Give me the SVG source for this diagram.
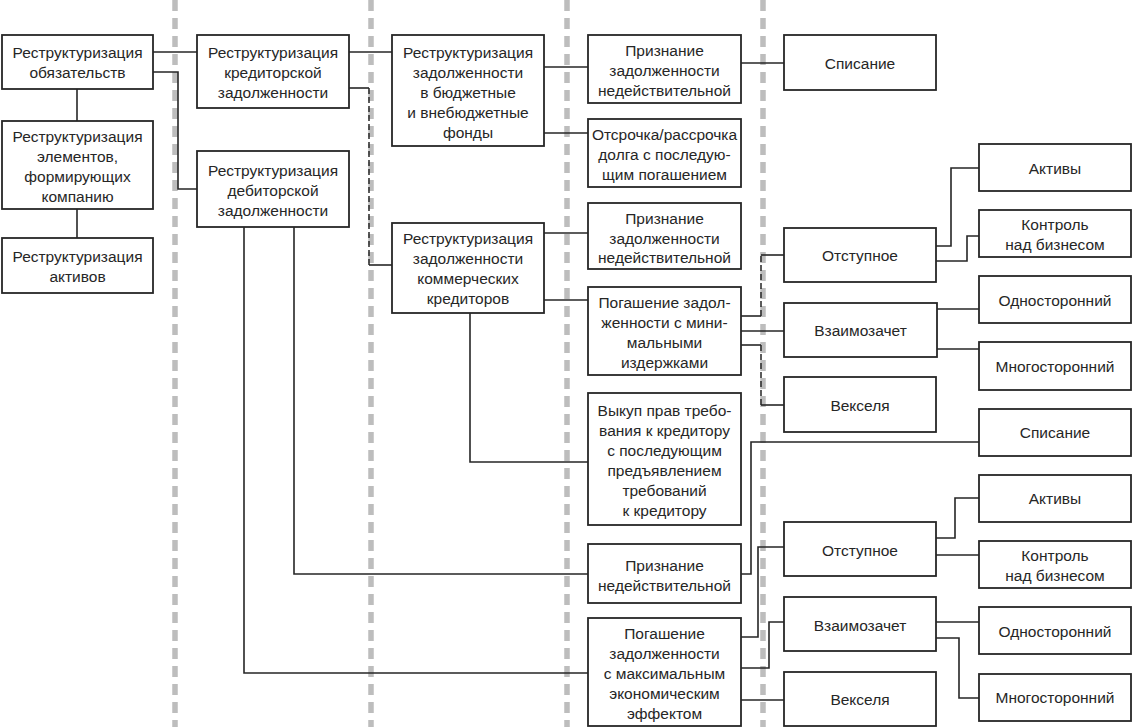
<svg xmlns="http://www.w3.org/2000/svg" width="1133" height="727" viewBox="0 0 1133 727">
<style>
.box{fill:#fff;stroke:#262626;stroke-width:1.8}
.t{font-family:"Liberation Sans",Arial,sans-serif;font-size:15.5px;fill:#262626;text-anchor:middle}
.c{fill:none;stroke:#262626;stroke-width:1.6}
.cd{fill:none;stroke:#262626;stroke-width:1.5;stroke-dasharray:6 3}
.sep{stroke:#bdbdbd;stroke-width:5.5;stroke-dasharray:11 7}
</style>
<rect width="1133" height="727" fill="#fff"/>
<g id="separators">
<line class="sep" x1="175" y1="0" x2="175" y2="727"/>
<line class="sep" x1="371" y1="0" x2="371" y2="727"/>
<line class="sep" x1="567" y1="0" x2="567" y2="727"/>
<line class="sep" x1="763" y1="0" x2="763" y2="727"/>
</g>
<g id="connectors">
<path class="c" d="M153 52H197"/>
<path class="c" d="M153 72H178V189H197"/>
<path class="c" d="M77 89V121"/>
<path class="c" d="M77 209V238"/>
<path class="c" d="M349 52H392"/>
<path class="c" d="M349 88H369"/>
<path class="cd" d="M369 88V265"/>
<path class="c" d="M369 265H392"/>
<path class="c" d="M544 67H588"/>
<path class="c" d="M544 133H588"/>
<path class="c" d="M741 63H784"/>
<path class="c" d="M544 233H588"/>
<path class="c" d="M544 300H588"/>
<path class="c" d="M470 313V462H588"/>
<path class="c" d="M741 316H761"/>
<path class="cd" d="M761 316V255"/>
<path class="c" d="M761 255H784"/>
<path class="c" d="M741 331H784"/>
<path class="c" d="M741 345H761"/>
<path class="cd" d="M761 345V405"/>
<path class="c" d="M761 405H784"/>
<path class="c" d="M936 246H951V168H979"/>
<path class="c" d="M936 261H967V236H979"/>
<path class="c" d="M937 309H979"/>
<path class="c" d="M937 349H979"/>
<path class="c" d="M741 574H751V442H979"/>
<path class="c" d="M294 227V574H588"/>
<path class="c" d="M244 227V673H588"/>
<path class="c" d="M741 637H758V547H784"/>
<path class="c" d="M741 668H769V622H784"/>
<path class="c" d="M741 700H784"/>
<path class="c" d="M936 538H955V498H979"/>
<path class="c" d="M936 555H979"/>
<path class="c" d="M936 622H979"/>
<path class="c" d="M936 638H959V698H979"/>
</g>
<g id="n1"><rect class="box" x="2" y="35" width="151" height="54"/><text class="t" x="77.5" y="57.5">Реструктуризация</text><text class="t" x="77.5" y="77.5">обязательств</text></g>
<g id="n2"><rect class="box" x="2" y="121" width="151" height="88"/><text class="t" x="77.5" y="141.5">Реструктуризация</text><text class="t" x="77.5" y="161.5">элементов,</text><text class="t" x="77.5" y="181.5">формирующих</text><text class="t" x="77.5" y="201.5">компанию</text></g>
<g id="n3"><rect class="box" x="2" y="238" width="151" height="55"/><text class="t" x="77.5" y="261.5">Реструктуризация</text><text class="t" x="77.5" y="281.5">активов</text></g>
<g id="n4"><rect class="box" x="197" y="35" width="152" height="73"/><text class="t" x="273" y="57.5">Реструктуризация</text><text class="t" x="273" y="77.5">кредиторской</text><text class="t" x="273" y="97.5">задолженности</text></g>
<g id="n5"><rect class="box" x="197" y="151" width="152" height="76"/><text class="t" x="273" y="175.5">Реструктуризация</text><text class="t" x="273" y="195.5">дебиторской</text><text class="t" x="273" y="215.5">задолженности</text></g>
<g id="n6"><rect class="box" x="392" y="35" width="152" height="111"/><text class="t" x="468" y="57.5">Реструктуризация</text><text class="t" x="468" y="77.5">задолженности</text><text class="t" x="468" y="97.5">в бюджетные</text><text class="t" x="468" y="117.5">и внебюджетные</text><text class="t" x="468" y="137.5">фонды</text></g>
<g id="n7"><rect class="box" x="392" y="223" width="152" height="90"/><text class="t" x="468" y="244">Реструктуризация</text><text class="t" x="468" y="264">задолженности</text><text class="t" x="468" y="284">коммерческих</text><text class="t" x="468" y="304">кредиторов</text></g>
<g id="n8"><rect class="box" x="588" y="35" width="153" height="68"/><text class="t" x="664.5" y="55.5">Признание</text><text class="t" x="664.5" y="75.5">задолженности</text><text class="t" x="664.5" y="95.5">недействительной</text></g>
<g id="n9"><rect class="box" x="588" y="119" width="153" height="68"/><text class="t" x="664.5" y="139.5">Отсрочка/рассрочка</text><text class="t" x="664.5" y="159.5">долга с последую-</text><text class="t" x="664.5" y="179.5">щим погашением</text></g>
<g id="n10"><rect class="box" x="588" y="203" width="153" height="66"/><text class="t" x="664.5" y="223.5">Признание</text><text class="t" x="664.5" y="243.5">задолженности</text><text class="t" x="664.5" y="263">недействительной</text></g>
<g id="n11"><rect class="box" x="588" y="287" width="153" height="88"/><text class="t" x="664.5" y="307.5">Погашение задол-</text><text class="t" x="664.5" y="327.5">женности с мини-</text><text class="t" x="664.5" y="347.5">мальными</text><text class="t" x="664.5" y="367.5">издержками</text></g>
<g id="n12"><rect class="box" x="588" y="393" width="153" height="132"/><text class="t" x="664.5" y="415.5">Выкуп прав требо-</text><text class="t" x="664.5" y="435.5">вания к кредитору</text><text class="t" x="664.5" y="455.5">с последующим</text><text class="t" x="664.5" y="475.5">предъявлением</text><text class="t" x="664.5" y="495.5">требований</text><text class="t" x="664.5" y="515.5">к кредитору</text></g>
<g id="n13"><rect class="box" x="588" y="544" width="153" height="59"/><text class="t" x="664.5" y="570.5">Признание</text><text class="t" x="664.5" y="590.5">недействительной</text></g>
<g id="n14"><rect class="box" x="588" y="618" width="153" height="108"/><text class="t" x="664.5" y="638.5">Погашение</text><text class="t" x="664.5" y="658.5">задолженности</text><text class="t" x="664.5" y="678.5">с максимальным</text><text class="t" x="664.5" y="698.5">экономическим</text><text class="t" x="664.5" y="718.5">эффектом</text></g>
<g id="n15"><rect class="box" x="784" y="35" width="152" height="55"/><text class="t" x="860" y="68.5">Списание</text></g>
<g id="n16"><rect class="box" x="784" y="228" width="152" height="54"/><text class="t" x="860" y="260.5">Отступное</text></g>
<g id="n17"><rect class="box" x="784" y="303" width="153" height="54"/><text class="t" x="860.5" y="336">Взаимозачет</text></g>
<g id="n18"><rect class="box" x="784" y="377" width="152" height="55"/><text class="t" x="860" y="410.5">Векселя</text></g>
<g id="n19"><rect class="box" x="784" y="522" width="152" height="54"/><text class="t" x="860" y="555.5">Отступное</text></g>
<g id="n20"><rect class="box" x="784" y="597" width="152" height="54"/><text class="t" x="860" y="630.5">Взаимозачет</text></g>
<g id="n21"><rect class="box" x="784" y="672" width="152" height="54"/><text class="t" x="860" y="704.5">Векселя</text></g>
<g id="n22"><rect class="box" x="979" y="144" width="152" height="47"/><text class="t" x="1055" y="173.5">Активы</text></g>
<g id="n23"><rect class="box" x="979" y="210" width="152" height="47"/><text class="t" x="1055" y="230">Контроль</text><text class="t" x="1055" y="250">над бизнесом</text></g>
<g id="n24"><rect class="box" x="979" y="276" width="152" height="47"/><text class="t" x="1055" y="305.5">Односторонний</text></g>
<g id="n25"><rect class="box" x="979" y="342" width="152" height="48"/><text class="t" x="1055" y="371.5">Многосторонний</text></g>
<g id="n26"><rect class="box" x="979" y="409" width="152" height="47"/><text class="t" x="1055" y="438">Списание</text></g>
<g id="n27"><rect class="box" x="979" y="475" width="152" height="47"/><text class="t" x="1055" y="504">Активы</text></g>
<g id="n28"><rect class="box" x="979" y="541" width="152" height="47"/><text class="t" x="1055" y="560.5">Контроль</text><text class="t" x="1055" y="580.5">над бизнесом</text></g>
<g id="n29"><rect class="box" x="979" y="607" width="152" height="47"/><text class="t" x="1055" y="636.5">Односторонний</text></g>
<g id="n30"><rect class="box" x="979" y="674" width="152" height="47"/><text class="t" x="1055" y="703">Многосторонний</text></g>
</svg>
